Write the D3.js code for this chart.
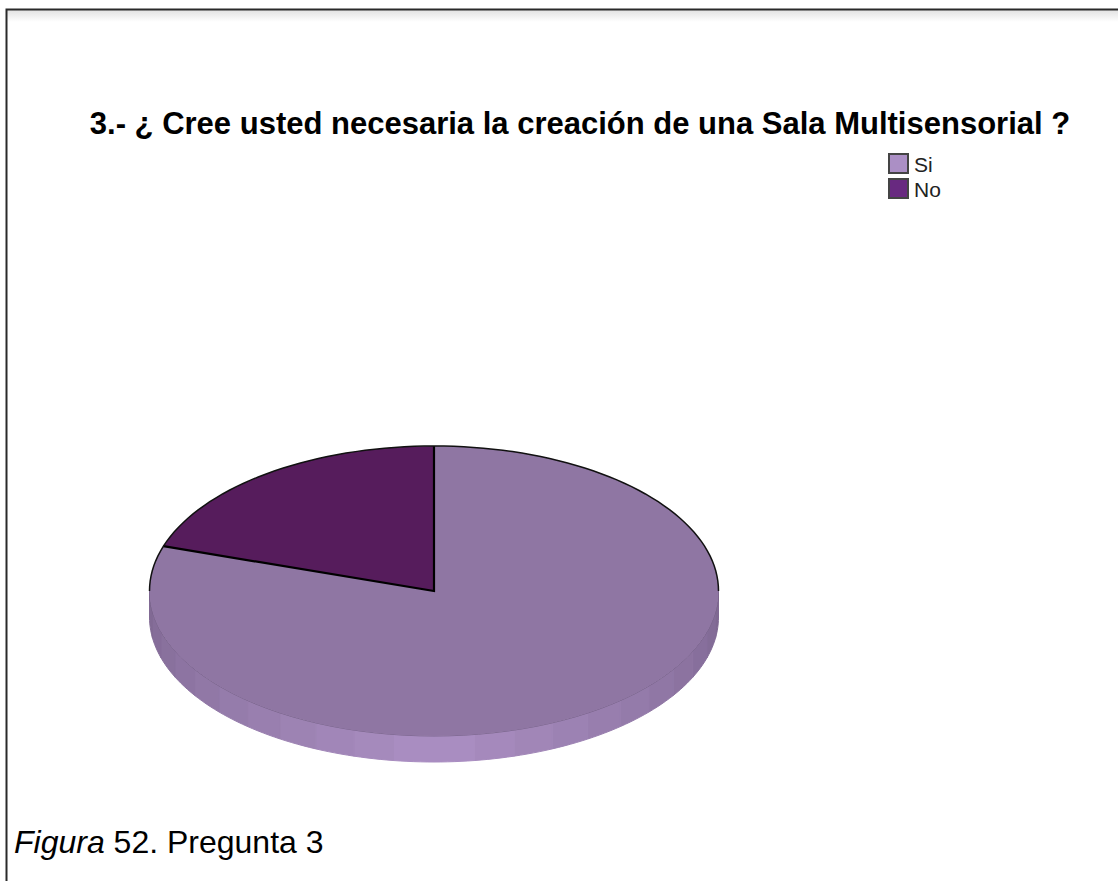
<!DOCTYPE html>
<html><head><meta charset="utf-8">
<script src="https://cdn.jsdelivr.net/npm/d3@7"></script>
<style>html,body{margin:0;padding:0;background:#fff}svg{display:block}text{font-family:"Liberation Sans",Arial,sans-serif}</style>
</head><body><svg id="c" width="1118" height="881"></svg>
<script>
const categories = ["Si","No"];
const seriesValues = [80,20];
const topColors = ["#8f76a3","#561c5c"];
const legendColors = ["#ab8fc5","#682980"];
const titleText = "3.- ¿ Cree usted necesaria la creación de una Sala Multisensorial ?";

const svg = d3.select("#c");
const W=1118,H=881;
const cx=434, cy=591, rx=284.5, ry=145, depth=26;

// frame
const defs=svg.append("defs");
const fade=defs.append("linearGradient").attr("id","fadeT").attr("x1",0).attr("x2",0).attr("y1",0).attr("y2",1);
fade.append("stop").attr("offset",0).attr("stop-color","#e2e2e2");
fade.append("stop").attr("offset",1).attr("stop-color","#fff");
svg.append("rect").attr("x",7).attr("y",10).attr("width",W-7).attr("height",12).attr("fill","url(#fadeT)");
svg.append("path").attr("d",`M6.5,${H}V9.5H${W}`).attr("fill","none").attr("stroke","#2a2a2a").attr("stroke-width",2);

// title
svg.append("text").attr("x",580).attr("y",134).attr("text-anchor","middle")
  .attr("font-size",31).attr("font-weight","bold").attr("fill","#000").text(titleText);

// pie: clockwise from the top, Si takes 80%, then No
const pie=d3.pie().value(d=>d).sort(null).startAngle(0).endAngle(2*Math.PI);
const arcs=pie(seriesValues);
const arc=d3.arc().innerRadius(0).outerRadius(rx);
const sideShade=d3.scaleLinear().domain([Math.PI/2,Math.PI,3*Math.PI/2])
  .range(["#7d6690","#ab8fc3","#7f6892"]);

// side wall: strips along the visible lower rim
const gSide=svg.append("g");
const stepCount=22;
const angles=d3.range(stepCount+1).map(i=>Math.PI/2+i*Math.PI/stepCount);
const rimX=a=>cx+rx*Math.sin(a), rimY=a=>cy-ry*Math.cos(a);
const strip=d3.area().x(d=>rimX(d)).y0(d=>rimY(d)).y1(d=>rimY(d)+depth);
d3.pairs(angles).forEach(([a,b])=>{
  const pts=d3.range(7).map(i=>a+(b-a)*i/6);
  gSide.append("path").attr("d",strip(pts))
    .attr("fill",sideShade((a+b)/2)).attr("stroke",sideShade((a+b)/2)).attr("stroke-width",1);
});
// thin seam between top and wall
svg.append("path")
  .attr("d",d3.line().x(rimX).y(rimY)(d3.range(61).map(i=>Math.PI/2+i*Math.PI/60)))
  .attr("fill","none").attr("stroke","#6f5a80").attr("stroke-width",0.8);

const gTop=svg.append("g").attr("transform",`translate(${cx},${cy}) scale(1,${ry/rx})`);
gTop.selectAll("path.top").data(arcs).join("path").attr("class","top")
  .attr("d",arc).attr("fill",(d,i)=>topColors[i]);
// black outlines: upper rim and radial edges of the No slice
const noArc=arcs[1];
const outline=d3.path();
outline.moveTo(rimX(noArc.startAngle),rimY(noArc.startAngle));
outline.lineTo(cx,cy);
outline.lineTo(cx,cy-ry);
svg.append("path").attr("d",outline.toString()).attr("fill","none").attr("stroke","#000").attr("stroke-width",2.2);
svg.append("path")
  .attr("d",d3.line().x(rimX).y(rimY)(d3.range(91).map(i=>-Math.PI/2+i*Math.PI/90)))
  .attr("fill","none").attr("stroke","#111").attr("stroke-width",1.5);

// legend
const leg=svg.append("g");
const ly=d3.scaleBand().domain(categories).range([151,201]);
categories.forEach((c,i)=>{
  leg.append("rect").attr("x",889).attr("y",ly(c)+3).attr("width",19).attr("height",19)
    .attr("fill",legendColors[i]).attr("stroke","#444").attr("stroke-width",2);
  leg.append("text").attr("x",914).attr("y",ly(c)+21).attr("font-size",21).attr("fill","#222").text(c);
});

// caption
const cap=svg.append("text").attr("x",14).attr("y",853).attr("font-size",32).attr("fill","#000");
cap.append("tspan").attr("font-style","italic").text("Figura");
cap.append("tspan").text(" 52. Pregunta 3");
</script></body></html>
